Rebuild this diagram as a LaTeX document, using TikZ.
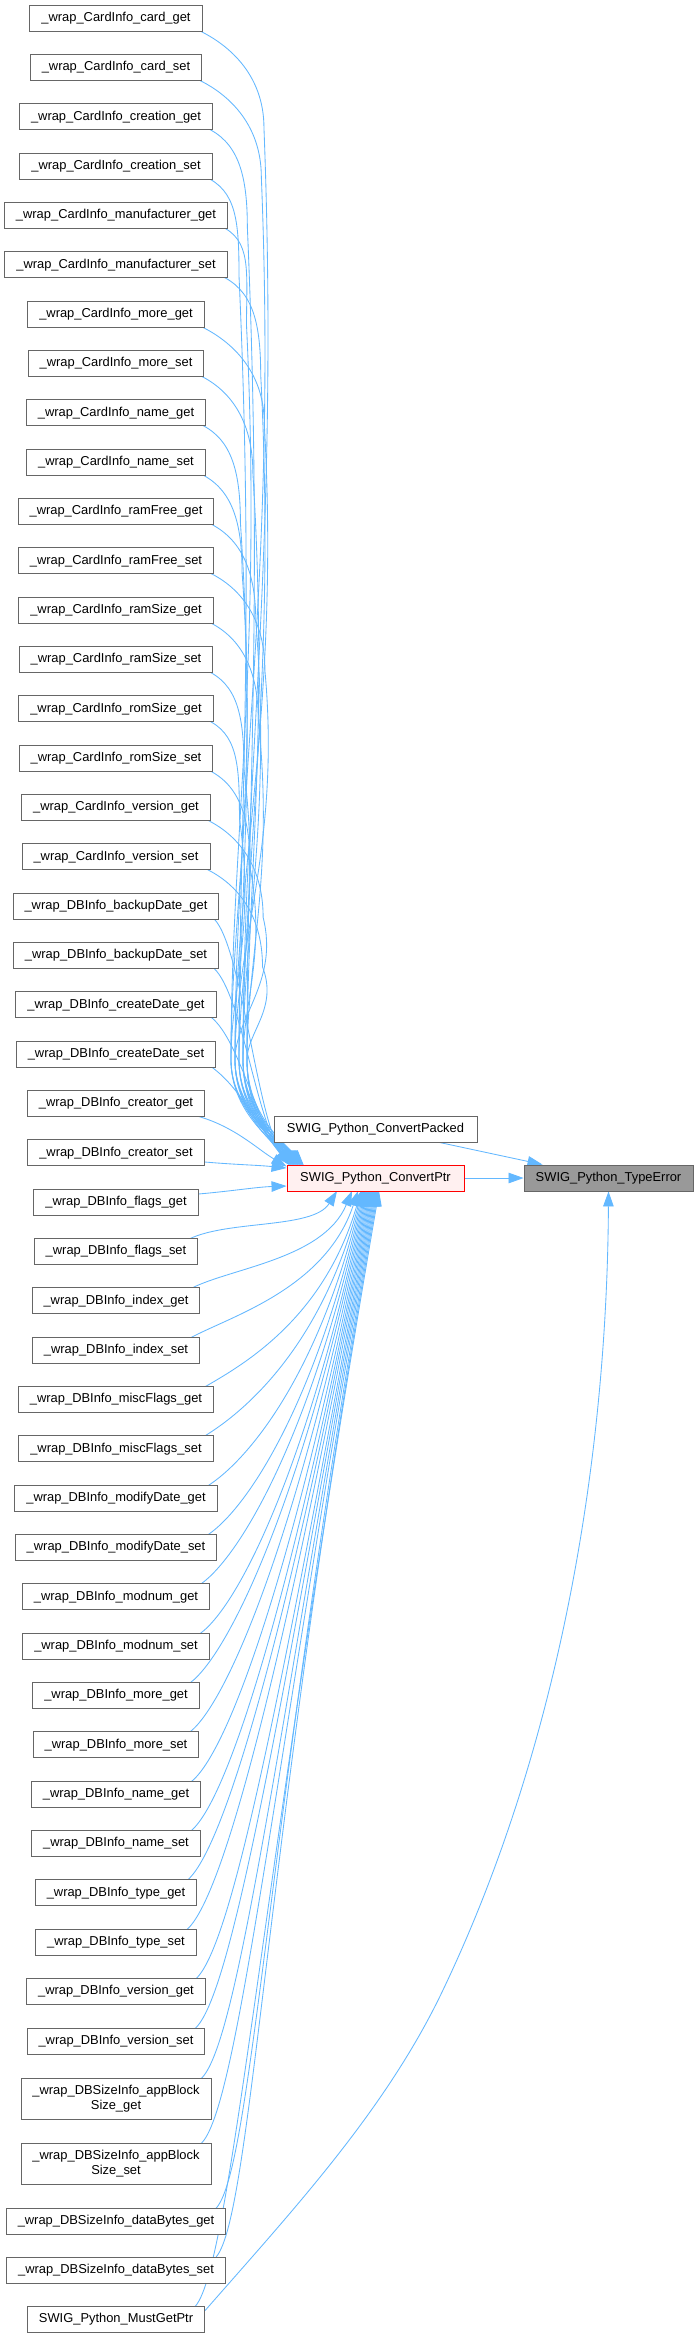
\documentclass[tikz,border=0pt]{standalone}
\usepackage{fontspec}
\setmainfont{Liberation Sans}
\usetikzlibrary{arrows.meta,calc}
\definecolor{edgeblue}{HTML}{63B8FF}
\definecolor{boxgray}{HTML}{666666}
\definecolor{ptrfill}{HTML}{FFF0F0}
\definecolor{errfill}{HTML}{999999}
\pgfdeclarelayer{edgelayer}
\pgfsetlayers{edgelayer,main}
\begin{document}
\begin{tikzpicture}[x=1pt,y=-1pt,
  fn/.style={draw=boxgray, fill=white, line width=0.9pt,
    font=\fontsize{12.9}{15}\selectfont, inner xsep=11.5pt, inner ysep=0pt,
    minimum height=26pt, align=center},
  fntwo/.style={fn, minimum height=41pt},
  hot/.style={fn, draw=red, fill=ptrfill},
  root/.style={fn, fill=errfill},
  call/.style={draw=edgeblue, line width=0.85pt, -{Triangle[length=15pt,width=10.5pt]}}]
\useasboundingbox (0,0) rectangle (699,2338);

% callers
\foreach \i/\t in {
 1/{\_wrap\_CardInfo\_card\_get},
 2/{\_wrap\_CardInfo\_card\_set},
 3/{\_wrap\_CardInfo\_creation\_get},
 4/{\_wrap\_CardInfo\_creation\_set},
 5/{\_wrap\_CardInfo\_manufacturer\_get},
 6/{\_wrap\_CardInfo\_manufacturer\_set},
 7/{\_wrap\_CardInfo\_more\_get},
 8/{\_wrap\_CardInfo\_more\_set},
 9/{\_wrap\_CardInfo\_name\_get},
 10/{\_wrap\_CardInfo\_name\_set},
 11/{\_wrap\_CardInfo\_ramFree\_get},
 12/{\_wrap\_CardInfo\_ramFree\_set},
 13/{\_wrap\_CardInfo\_ramSize\_get},
 14/{\_wrap\_CardInfo\_ramSize\_set},
 15/{\_wrap\_CardInfo\_romSize\_get},
 16/{\_wrap\_CardInfo\_romSize\_set},
 17/{\_wrap\_CardInfo\_version\_get},
 18/{\_wrap\_CardInfo\_version\_set},
 19/{\_wrap\_DBInfo\_backupDate\_get},
 20/{\_wrap\_DBInfo\_backupDate\_set},
 21/{\_wrap\_DBInfo\_createDate\_get},
 22/{\_wrap\_DBInfo\_createDate\_set},
 23/{\_wrap\_DBInfo\_creator\_get},
 24/{\_wrap\_DBInfo\_creator\_set},
 25/{\_wrap\_DBInfo\_flags\_get},
 26/{\_wrap\_DBInfo\_flags\_set},
 27/{\_wrap\_DBInfo\_index\_get},
 28/{\_wrap\_DBInfo\_index\_set},
 29/{\_wrap\_DBInfo\_miscFlags\_get},
 30/{\_wrap\_DBInfo\_miscFlags\_set},
 31/{\_wrap\_DBInfo\_modifyDate\_get},
 32/{\_wrap\_DBInfo\_modifyDate\_set},
 33/{\_wrap\_DBInfo\_modnum\_get},
 34/{\_wrap\_DBInfo\_modnum\_set},
 35/{\_wrap\_DBInfo\_more\_get},
 36/{\_wrap\_DBInfo\_more\_set},
 37/{\_wrap\_DBInfo\_name\_get},
 38/{\_wrap\_DBInfo\_name\_set},
 39/{\_wrap\_DBInfo\_type\_get},
 40/{\_wrap\_DBInfo\_type\_set},
 41/{\_wrap\_DBInfo\_version\_get},
 42/{\_wrap\_DBInfo\_version\_set}} {
  \pgfmathsetmacro\yy{18+(\i-1)*49.34}
  \node[fn] (n\i) at (116,\yy) {\t};
}
\node[fntwo] (n43) at (116,2098.5) {\_wrap\_DBSizeInfo\_appBlock\\Size\_get};
\node[fntwo] (n44) at (116,2163.5) {\_wrap\_DBSizeInfo\_appBlock\\Size\_set};
\node[fn] (n45) at (116,2221) {\_wrap\_DBSizeInfo\_dataBytes\_get};
\node[fn] (n46) at (116,2270.3) {\_wrap\_DBSizeInfo\_dataBytes\_set};
\node[fn] (n47) at (116,2319.6) {SWIG\_Python\_MustGetPtr};

\node[fn, minimum width=203pt] (cpk) at (375.5,1129) {SWIG\_Python\_ConvertPacked};
\node[hot, minimum width=177pt] (cp) at (375.5,1178) {SWIG\_Python\_ConvertPtr};
\node[root, minimum width=169pt] (te) at (608.5,1178) {SWIG\_Python\_TypeError};

\begin{pgfonlayer}{edgelayer}
\fill[white] (0,0) rectangle (699,2338);
% upper far callers: leave the box, run down in a loose bundle, swing into the top of ConvertPtr
\foreach \i in {1,...,18} {
  \pgfmathsetmacro\yy{18+(\i-1)*49.34}
  \pgfmathsetmacro\bx{252+13*sin(\i*67)}
  \pgfmathsetmacro\qx{231+mod(\i*3,5)*4}
  \pgfmathsetmacro\tx{289+(22-\i)*0.7}
  \pgfmathsetmacro\ya{\yy+110}
  \pgfmathsetmacro\cya{\yy+55}
  \pgfmathsetmacro\cb{\ya+0.45*(1060-\ya)}
  \pgfmathsetmacro\cc{1060-0.3*(1060-\ya)}
  \draw[call] ($(n\i.south east)+(-8,-3)$) .. controls +(32,14) and (\bx,\cya) .. (\bx,\ya)
     .. controls (\bx+16,\cb) and (\qx,\cc) .. (\qx,1060)
     .. controls (\qx,1110) and (\tx-24,1138) .. (\tx,1165);
}
% upper near callers
\foreach \i in {19,...,22} {
  \pgfmathsetmacro\tx{289+(22-\i)*0.7}
  \draw[call] ($(n\i.south east)+(-8,-3)$) .. controls +(30,20) and +(-35,-45) .. (\tx,1165);
}
\draw[call] ($(n23.south east)+(-12,-2)$) .. controls +(40,10) and +(-30,-18) .. ($(cp.north west)+(0,2)$);
\draw[call] ($(n24.east)+(-2,9)$) .. controls +(35,3) and +(-30,-3) .. ($(cp.west)+(0,-10)$);
\draw[call] ($(n25.east)+(-2,-8)$) .. controls +(35,-3) and +(-30,1) .. ($(cp.west)+(0,8)$);
% lower callers
\foreach \i/\tx in {26/337,27/352,28/358,29/361,30/362,31/363,32/364,33/365,34/366,35/367,36/368,37/369,38/370,39/371,40/372,41/373,42/374,43/375,44/376,45/377,46/378,47/379} {
  \path ($(n\i.north east)+(-13,3)$) coordinate (s\i);
  \path let \p1=(s\i) in \pgfextra{\pgfmathsetmacro\dY{-\y1/1pt-1191}\xdef\dY{\dY}};
  \pgfmathsetmacro\ca{-(0.09*\dY+20)}
  \pgfmathsetmacro\cb{0.62*\dY+8}
  \draw[call] (s\i) .. controls +(38,-22) and +(\ca,\cb) .. (\tx,1191);
}
\draw[call] (cp.east) -- (te.west);
\draw[call] ($(cpk.south)+(64,0)$) -- ($(te.north west)+(19,0)$);
\draw[call] ($(n47.east)+(0,-9)$) .. controls (293,2210) and (386,2110) .. (443,1990)
   .. controls (559,1747) and (607,1462) .. (te.south);
\end{pgfonlayer}
\end{tikzpicture}
\end{document}
